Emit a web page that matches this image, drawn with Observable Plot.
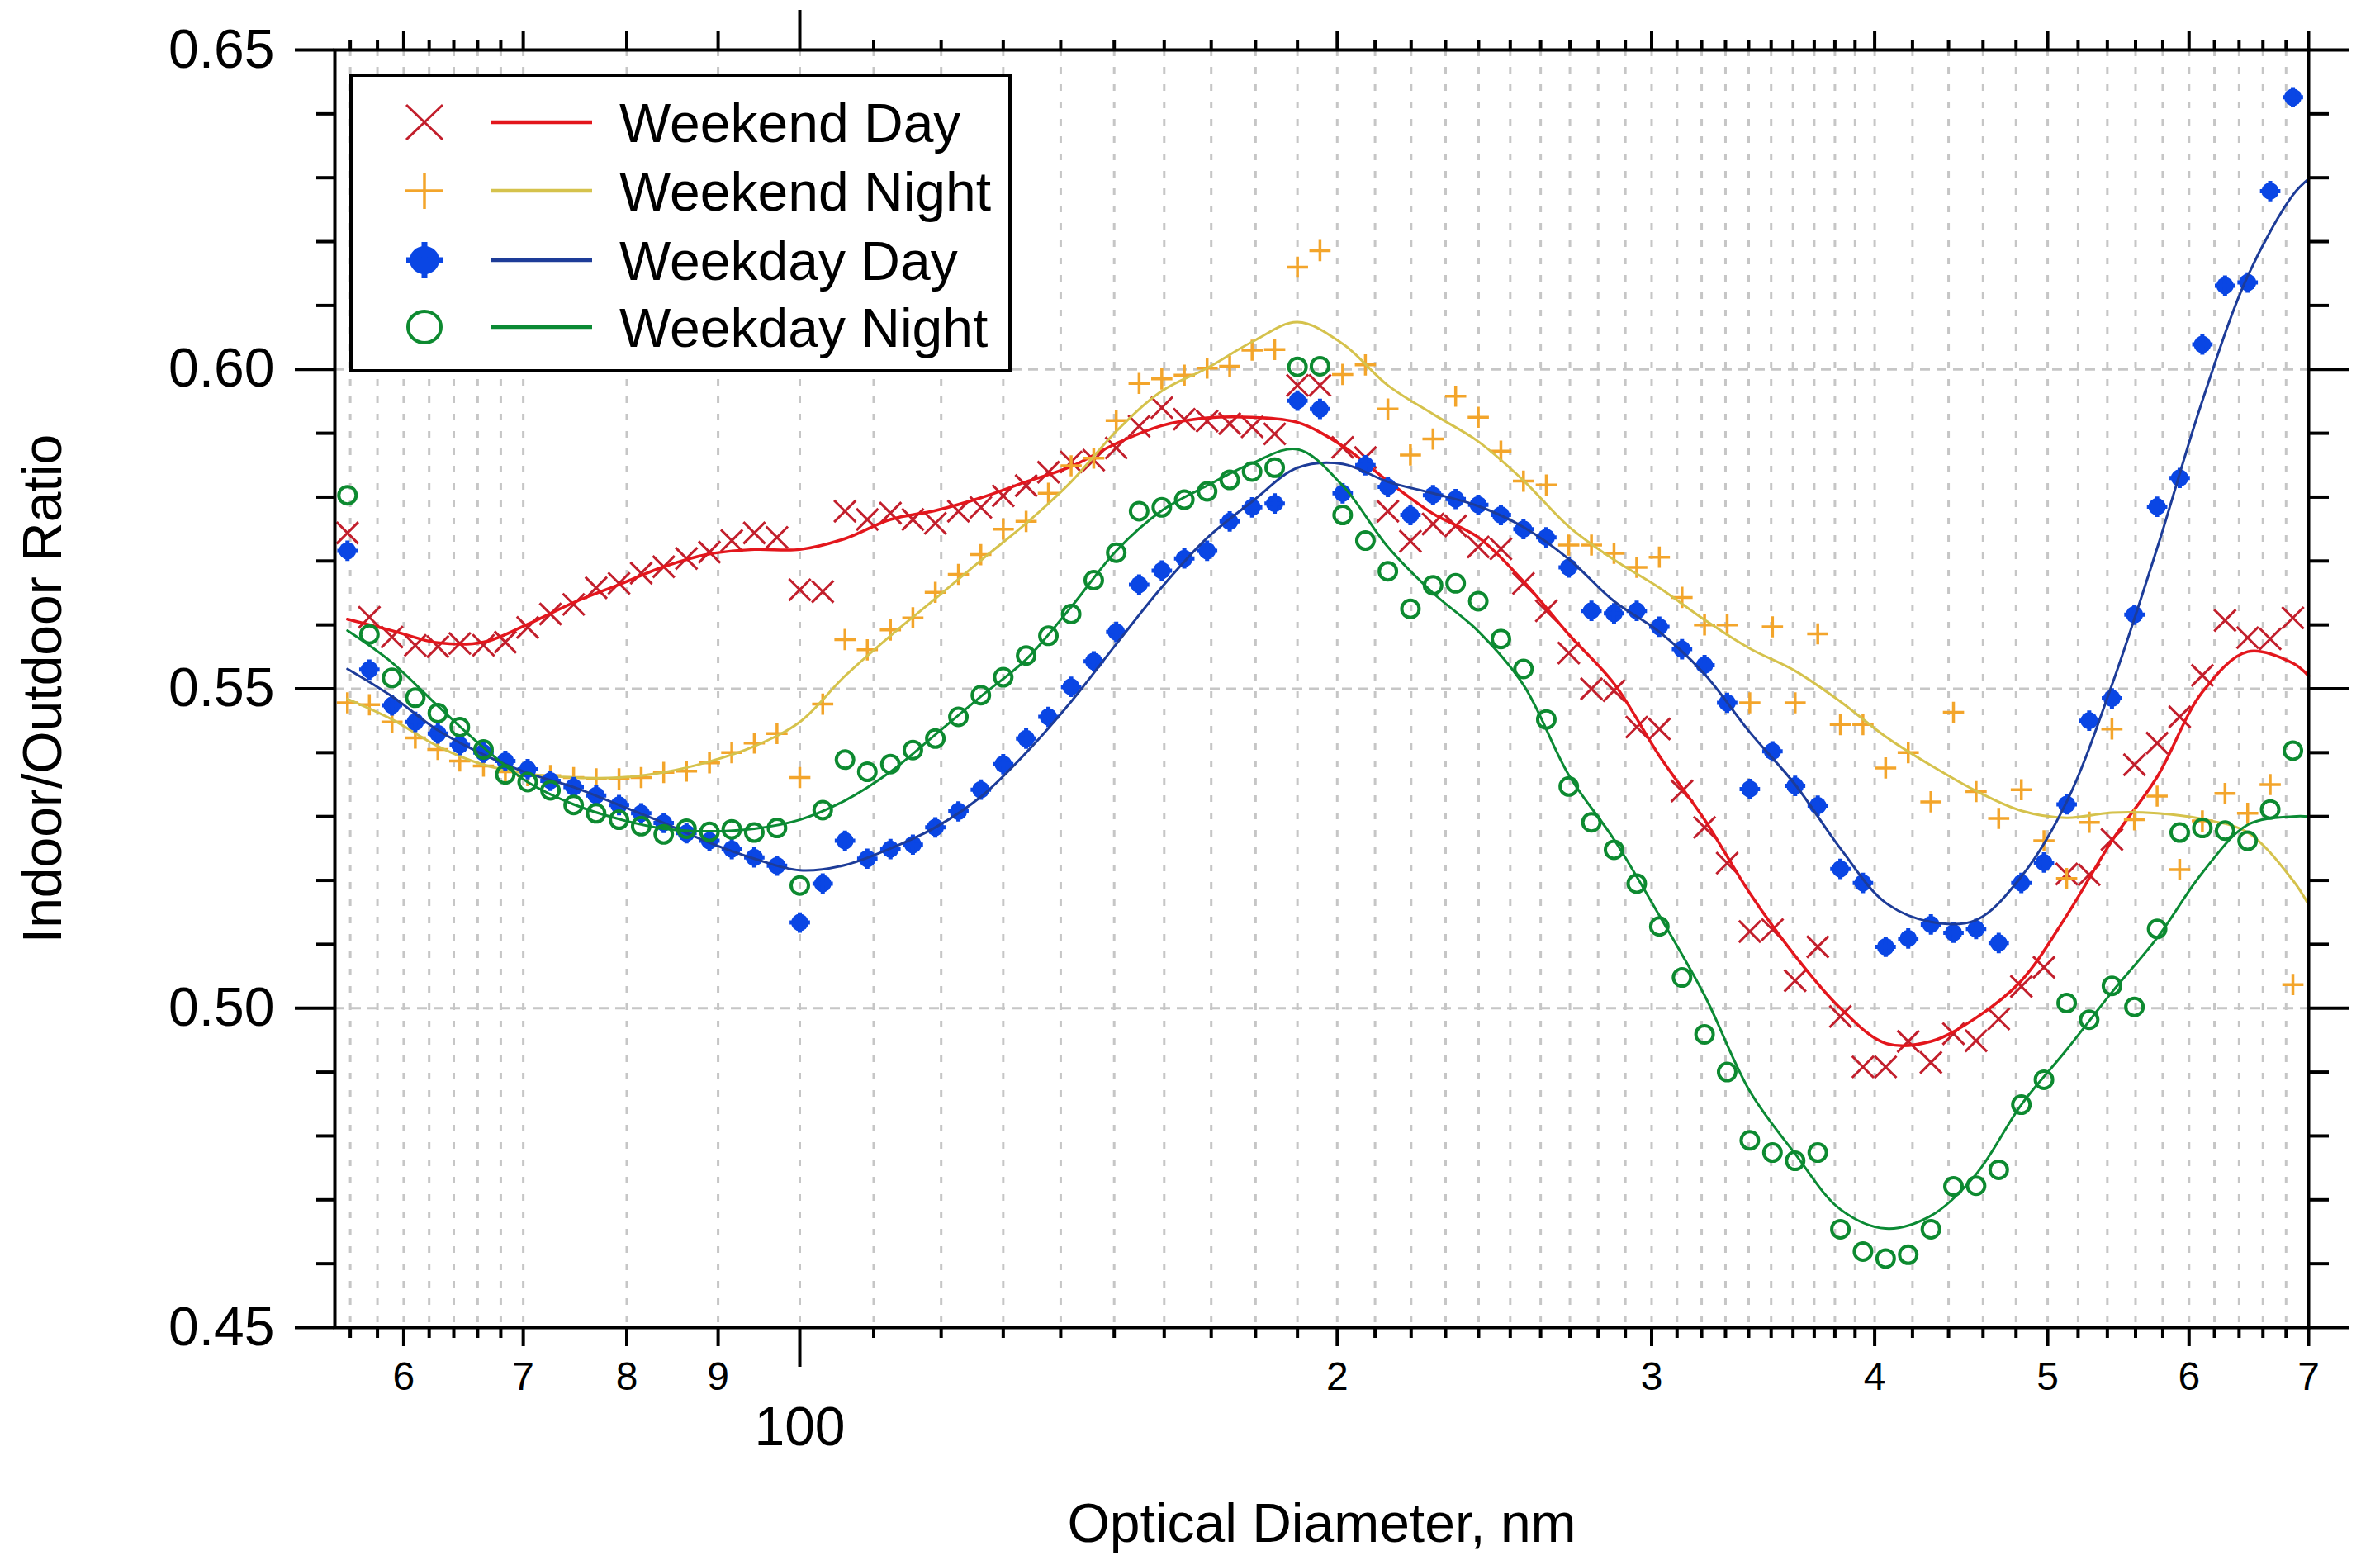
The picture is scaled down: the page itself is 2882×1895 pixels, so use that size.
<!DOCTYPE html>
<html>
<head>
<meta charset="utf-8">
<script src="https://cdn.jsdelivr.net/npm/d3@7"></script>
<script src="https://cdn.jsdelivr.net/npm/@observablehq/plot@0.6"></script>
<style>
html, body { margin: 0; padding: 0; background: #ffffff; }
#wrap { width: 2882px; height: 1895px; }
</style>
</head>
<body>
<div id="wrap"></div>
<script>
// ---------- data ----------
const seriesNames = ["Weekend Day", "Weekend Night", "Weekday Day", "Weekday Night"];

// optical-diameter channels (nm)
const diameters = [55.8, 57.4, 59.1, 60.9, 62.7, 64.5, 66.5, 68.4, 70.4, 72.5,
  74.7, 76.9, 79.2, 81.5, 83.9, 86.4, 89.0, 91.6, 94.3, 97.1,
  100,
  103.0, 106.0, 109.1, 112.4, 115.7, 119.1, 122.7, 126.3, 130.0, 133.9,
  137.8, 141.9, 146.1, 150.4, 154.9, 159.5, 164.2, 169.1, 174.1, 179.2,
  184.5, 190.0, 195.6, 201.4, 207.4, 213.5, 219.8, 226.3, 233.0, 239.9,
  247.0, 254.3, 261.9, 269.6, 277.6, 285.8, 294.3, 303.0, 312.0, 321.2,
  330.7, 340.5, 350.6, 361.0, 371.7, 382.7, 394.0, 405.7, 417.7, 430.1,
  442.8, 455.9, 469.4, 483.3, 497.6, 512.4, 527.5, 543.2, 559.2, 575.8,
  592.8, 610.4, 628.5, 647.1, 666.2, 686.0];

const weekendDay = [0.5744, 0.5612, 0.5581, 0.5568, 0.5566, 0.5571, 0.5568, 0.5573, 0.5596, 0.5617,
  0.5632, 0.5658, 0.5665, 0.5681, 0.5691, 0.5704, 0.5714, 0.5732, 0.5744, 0.5737,
  0.5655,
  0.5652, 0.5778, 0.5765, 0.5775, 0.5765, 0.5759, 0.5778, 0.5784, 0.5802, 0.5818,
  0.5839, 0.5855, 0.5858, 0.5877, 0.5911, 0.5940, 0.5922, 0.5919, 0.5915, 0.5910,
  0.5899, 0.5975, 0.5975, 0.5878, 0.5862, 0.5778, 0.5731, 0.5758, 0.5755, 0.5722,
  0.5719, 0.5665, 0.5622, 0.5556, 0.5500, 0.5497, 0.5440, 0.5437, 0.5340, 0.5283,
  0.5227, 0.5120, 0.5123, 0.5043, 0.5096, 0.4987, 0.4908, 0.4908, 0.4948, 0.4915,
  0.4960, 0.4949, 0.4983, 0.5034, 0.5064, 0.5210, 0.5209, 0.5264, 0.5381, 0.5415,
  0.5456, 0.5521, 0.5607, 0.5580, 0.5578, 0.5611];

const weekendNight = [0.5478, 0.5475, 0.5448, 0.5423, 0.5405, 0.5387, 0.5379, 0.5370, 0.5364, 0.5364,
  0.5361, 0.5359, 0.5359, 0.5361, 0.5369, 0.5371, 0.5384, 0.5400, 0.5415, 0.5430,
  0.5361,
  0.5476, 0.5577, 0.5561, 0.5592, 0.5611, 0.5651, 0.5679, 0.5710, 0.5750, 0.5762,
  0.5806, 0.5849, 0.5861, 0.5920, 0.5978, 0.5985, 0.5991, 0.6002, 0.6005, 0.6030,
  0.6031, 0.6160, 0.6186, 0.5992, 0.6007, 0.5938, 0.5866, 0.5891, 0.5958, 0.5925,
  0.5872, 0.5825, 0.5819, 0.5725, 0.5725, 0.5712, 0.5690, 0.5706, 0.5643, 0.5600,
  0.5600, 0.5478, 0.5597, 0.5478, 0.5586, 0.5444, 0.5444, 0.5376, 0.5400, 0.5323,
  0.5463, 0.5339, 0.5297, 0.5342, 0.5262, 0.5203, 0.5291, 0.5437, 0.5295, 0.5332,
  0.5217, 0.5293, 0.5336, 0.5305, 0.5350, 0.5037];

const weekdayDay = [0.5716, 0.5530, 0.5474, 0.5448, 0.5430, 0.5412, 0.5400, 0.5387, 0.5374, 0.5356,
  0.5346, 0.5333, 0.5318, 0.5305, 0.5290, 0.5274, 0.5262, 0.5249, 0.5236, 0.5223,
  0.5134,
  0.5195, 0.5262, 0.5234, 0.5249, 0.5256, 0.5283, 0.5308, 0.5342, 0.5382, 0.5422,
  0.5456, 0.5503, 0.5543, 0.5589, 0.5663, 0.5685, 0.5704, 0.5716, 0.5762, 0.5784,
  0.5790, 0.5951, 0.5938, 0.5806, 0.5850, 0.5816, 0.5772, 0.5803, 0.5797, 0.5788,
  0.5772, 0.5750, 0.5737, 0.5690, 0.5622, 0.5618, 0.5622, 0.5597, 0.5562, 0.5537,
  0.5478, 0.5343, 0.5402, 0.5348, 0.5317, 0.5218, 0.5196, 0.5096, 0.5109, 0.5131,
  0.5118, 0.5124, 0.5102, 0.5196, 0.5228, 0.5319, 0.5450, 0.5485, 0.5616, 0.5785,
  0.5830, 0.6039, 0.6131, 0.6136, 0.6279, 0.6426];

const weekdayNight = [0.5803, 0.5585, 0.5517, 0.5486, 0.5462, 0.5440, 0.5405, 0.5366, 0.5354, 0.5341,
  0.5318, 0.5305, 0.5295, 0.5285, 0.5272, 0.5281, 0.5276, 0.5280, 0.5275, 0.5282,
  0.5192,
  0.5310, 0.5389, 0.5370, 0.5382, 0.5404, 0.5422, 0.5456, 0.5490, 0.5518, 0.5552,
  0.5583, 0.5617, 0.5670, 0.5713, 0.5778, 0.5784, 0.5796, 0.5809, 0.5827, 0.5840,
  0.5846, 0.6004, 0.6005, 0.5772, 0.5732, 0.5684, 0.5625, 0.5662, 0.5665, 0.5637,
  0.5578, 0.5531, 0.5452, 0.5347, 0.5291, 0.5248, 0.5195, 0.5128, 0.5048, 0.4959,
  0.4900, 0.4793, 0.4774, 0.4761, 0.4774, 0.4654, 0.4619, 0.4608, 0.4614, 0.4654,
  0.4721, 0.4722, 0.4747, 0.4849, 0.4888, 0.5008, 0.4982, 0.5035, 0.5002, 0.5124,
  0.5275, 0.5282, 0.5278, 0.5262, 0.5311, 0.5403];

// fitted curves, read at these diameters
const fitDiameters = [55.8, 59.1, 62.7, 66.5, 70.4, 74.7, 79.2, 83.9, 89.0, 94.3,
  100, 106.0, 112.4, 119.1, 126.3, 133.9, 141.9, 150.4, 159.5, 169.1,
  179.2, 190.0, 201.4, 213.5, 226.3, 239.9, 254.3, 269.6, 285.8, 303.0,
  321.2, 340.5, 361.0, 382.7, 405.7, 430.1, 455.9, 483.3, 512.4, 543.2,
  575.8, 610.4, 647.1, 686.0, 700];

const fitWeekendDay = [0.5609, 0.5591, 0.5572, 0.5573, 0.5601, 0.5635, 0.5663, 0.5691, 0.5711, 0.5718,
  0.5718, 0.5735, 0.5765, 0.5779, 0.5799, 0.5824, 0.5848, 0.5884, 0.5912, 0.5924,
  0.5925, 0.5917, 0.5880, 0.5825, 0.5774, 0.5737, 0.5668, 0.5585, 0.5508, 0.5395,
  0.5295, 0.5180, 0.5082, 0.5000, 0.4945, 0.4948, 0.4985, 0.5043, 0.5145, 0.5262,
  0.5362, 0.5495, 0.5558, 0.5540, 0.5520];

const fitWeekendNight = [0.5484, 0.5452, 0.5410, 0.5381, 0.5367, 0.5361, 0.5361, 0.5369, 0.5386, 0.5410,
  0.5448, 0.5520, 0.5583, 0.5641, 0.5701, 0.5759, 0.5824, 0.5903, 0.5966, 0.6002,
  0.6043, 0.6074, 0.6040, 0.5975, 0.5930, 0.5887, 0.5826, 0.5754, 0.5702, 0.5658,
  0.5608, 0.5563, 0.5528, 0.5480, 0.5425, 0.5380, 0.5340, 0.5309, 0.5298, 0.5306,
  0.5305, 0.5296, 0.5275, 0.5200, 0.5162];

const fitWeekdayDay = [0.5531, 0.5488, 0.5435, 0.5397, 0.5368, 0.5346, 0.5318, 0.5290, 0.5259, 0.5234,
  0.5216, 0.5224, 0.5250, 0.5283, 0.5331, 0.5400, 0.5480, 0.5570, 0.5659, 0.5736,
  0.5793, 0.5846, 0.5852, 0.5824, 0.5806, 0.5786, 0.5753, 0.5703, 0.5637, 0.5589,
  0.5523, 0.5432, 0.5350, 0.5250, 0.5165, 0.5135, 0.5138, 0.5206, 0.5323, 0.5506,
  0.5720, 0.5951, 0.6146, 0.6273, 0.6298];

const fitWeekdayNight = [0.5591, 0.5541, 0.5473, 0.5408, 0.5354, 0.5319, 0.5296, 0.5281, 0.5277, 0.5281,
  0.5295, 0.5325, 0.5370, 0.5428, 0.5488, 0.5546, 0.5628, 0.5716, 0.5779, 0.5818,
  0.5853, 0.5875, 0.5818, 0.5722, 0.5650, 0.5590, 0.5506, 0.5365, 0.5264, 0.5145,
  0.5020, 0.4870, 0.4772, 0.4685, 0.4655, 0.4675, 0.4740, 0.4849, 0.4935, 0.5025,
  0.5110, 0.5212, 0.5287, 0.5300, 0.5300];

// axis ticks
const xGridTicks = [56, 58, 60, 62, 64, 66, 68, 70, 80, 90, 100,
  110, 120, 130, 140, 150, 160, 170, 180, 190, 200,
  210, 220, 230, 240, 250, 260, 270, 280, 290, 300,
  310, 320, 330, 340, 350, 360, 370, 380, 390, 400,
  420, 440, 460, 480, 500, 520, 540, 560, 580, 600,
  620, 640, 660, 680];
const xLabeledTicks = [60, 70, 80, 90, 200, 300, 400, 500, 600, 700];
const xLabelText = ["6", "7", "8", "9", "2", "3", "4", "5", "6", "7"];
const xDecadeTicks = [100];
const yMajorTicks = [0.45, 0.50, 0.55, 0.60, 0.65];
const yMinorTicks = [0.46, 0.47, 0.48, 0.49, 0.51, 0.52, 0.53, 0.54, 0.56, 0.57, 0.58, 0.59, 0.61, 0.62, 0.63, 0.64];
const yGridTicks = [0.50, 0.55, 0.60];

// ---------- styling ----------
const markerColors = ["#c21f2c", "#f3a52b", "#0a46e4", "#0d8a30"];
const lineColors = ["#e3161c", "#d5c24c", "#1d3c98", "#0b8a34"];
const FONT = "'Liberation Sans', Arial, Helvetica, sans-serif";

const pointSets = [weekendDay, weekendNight, weekdayDay, weekdayNight].map(vals =>
  diameters.map((d, i) => ({d, v: vals[i]})).filter(p => p.v != null));
const fitSets = [fitWeekendDay, fitWeekendNight, fitWeekdayDay, fitWeekdayNight].map(vals =>
  fitDiameters.map((d, i) => ({d, v: vals[i]})));

const xMinorTicks = xGridTicks.filter(t => !xLabeledTicks.includes(t) && !xDecadeTicks.includes(t));
const blank = () => "";
const tickStyle = {stroke: "#000", strokeWidth: 4, label: null};

const seriesMarks = [
  // Weekend Day
  Plot.dot(pointSets[0], {x: "d", y: "v", symbol: "times", r: 12, stroke: markerColors[0], strokeWidth: 3, fill: "none"}),
  Plot.line(fitSets[0], {x: "d", y: "v", curve: "catmull-rom", stroke: lineColors[0], strokeWidth: 3.5}),
  // Weekend Night
  Plot.dot(pointSets[1], {x: "d", y: "v", symbol: "plus", r: 8.3, stroke: markerColors[1], strokeWidth: 3.5, fill: "none"}),
  Plot.line(fitSets[1], {x: "d", y: "v", curve: "catmull-rom", stroke: lineColors[1], strokeWidth: 3}),
  // Weekday Day
  Plot.dot(pointSets[2], {x: "d", y: "v", symbol: "circle", r: 10.5, fill: markerColors[2], stroke: "none"}),
  Plot.dot(pointSets[2], {x: "d", y: "v", symbol: "plus", r: 8, stroke: markerColors[2], strokeWidth: 5, fill: "none"}),
  Plot.line(fitSets[2], {x: "d", y: "v", curve: "catmull-rom", stroke: lineColors[2], strokeWidth: 3}),
  // Weekday Night
  Plot.dot(pointSets[3], {x: "d", y: "v", symbol: "circle", r: 10.5, stroke: markerColors[3], strokeWidth: 4, fill: "none"}),
  Plot.line(fitSets[3], {x: "d", y: "v", curve: "catmull-rom", stroke: lineColors[3], strokeWidth: 3})
];

const chart = Plot.plot({
  width: 2882,
  height: 1895,
  marginLeft: 405,
  marginRight: 87,
  marginTop: 60,
  marginBottom: 288,
  style: {fontFamily: FONT, background: "#ffffff", color: "#000000"},
  x: {type: "log", domain: [54.9, 700]},
  y: {domain: [0.45, 0.65]},
  marks: [
    Plot.gridX(xGridTicks, {stroke: "#c6c6c6", strokeOpacity: 1, strokeWidth: 3, strokeDasharray: "8,13"}),
    Plot.gridY(yGridTicks, {stroke: "#c6c6c6", strokeOpacity: 1, strokeWidth: 3, strokeDasharray: "12,8"}),
    ...seriesMarks,
    Plot.frame({stroke: "#000", strokeWidth: 4}),
    // bottom axis
    Plot.axisX(xMinorTicks, {...tickStyle, anchor: "bottom", tickSize: 13, tickFormat: blank}),
    Plot.axisX(xLabeledTicks, {...tickStyle, anchor: "bottom", tickSize: 23, tickPadding: 18, fontSize: 48,
      tickFormat: d => xLabelText[xLabeledTicks.indexOf(d)]}),
    Plot.axisX(xDecadeTicks, {stroke: "#000", strokeWidth: 4, anchor: "bottom", tickSize: 48, tickPadding: 48, fontSize: 66,
      tickFormat: d => String(d),
      label: "Optical Diameter, nm", labelAnchor: "center", labelOffset: 259, labelArrow: false}),
    // top axis
    Plot.axisX(xMinorTicks, {...tickStyle, anchor: "top", tickSize: 12, tickFormat: blank}),
    Plot.axisX(xLabeledTicks, {...tickStyle, anchor: "top", tickSize: 23, tickFormat: blank}),
    Plot.axisX(xDecadeTicks, {...tickStyle, anchor: "top", tickSize: 49, tickFormat: blank}),
    // left axis
    Plot.axisY(yMajorTicks, {stroke: "#000", strokeWidth: 4, anchor: "left", tickSize: 48, tickPadding: 25, fontSize: 66,
      tickFormat: d3.format(".2f"),
      label: "Indoor/Outdoor Ratio", labelAnchor: "center", labelOffset: 378, labelArrow: false}),
    Plot.axisY(yMinorTicks, {...tickStyle, anchor: "left", tickSize: 22, tickFormat: blank}),
    // right axis
    Plot.axisY(yMajorTicks, {...tickStyle, anchor: "right", tickSize: 48, tickFormat: blank}),
    Plot.axisY(yMinorTicks, {...tickStyle, anchor: "right", tickSize: 24, tickFormat: blank})
  ]
});

// ---------- legend (inside the plot, top-left) ----------
const svg = d3.select(chart);
const lg = svg.append("g").attr("class", "legend").attr("text-anchor", "start");
lg.append("rect").attr("x", 425).attr("y", 91).attr("width", 798).attr("height", 358)
  .attr("fill", "#ffffff").attr("stroke", "#000").attr("stroke-width", 4);
const rowY = [148, 231, 315, 396];
seriesNames.forEach((name, i) => {
  const y = rowY[i];
  const g = lg.append("g").attr("transform", `translate(514,${y})`);
  if (i === 0) {
    g.append("path").attr("d", "M-22,-21L22,21M-22,21L22,-21")
      .attr("stroke", markerColors[0]).attr("stroke-width", 3).attr("fill", "none");
  } else if (i === 1) {
    g.append("path").attr("d", "M-23,0L23,0M0,-22L0,22")
      .attr("stroke", markerColors[1]).attr("stroke-width", 3.5).attr("fill", "none");
  } else if (i === 2) {
    g.append("ellipse").attr("rx", 18).attr("ry", 17).attr("fill", markerColors[2]);
    g.append("path").attr("d", "M-22,0L22,0M0,-22L0,22")
      .attr("stroke", markerColors[2]).attr("stroke-width", 7).attr("fill", "none");
  } else {
    g.append("ellipse").attr("rx", 20).attr("ry", 19).attr("fill", "none")
      .attr("stroke", markerColors[3]).attr("stroke-width", 4);
  }
  lg.append("line").attr("x1", 595).attr("x2", 717).attr("y1", y).attr("y2", y)
    .attr("stroke", lineColors[i]).attr("stroke-width", 4.5);
  lg.append("text").attr("x", 750).attr("y", y + 24)
    .attr("text-anchor", "start")
    .attr("font-family", FONT).attr("font-size", 66).attr("fill", "#000")
    .text(name);
});

document.getElementById("wrap").appendChild(chart);
</script>
</body>
</html>
